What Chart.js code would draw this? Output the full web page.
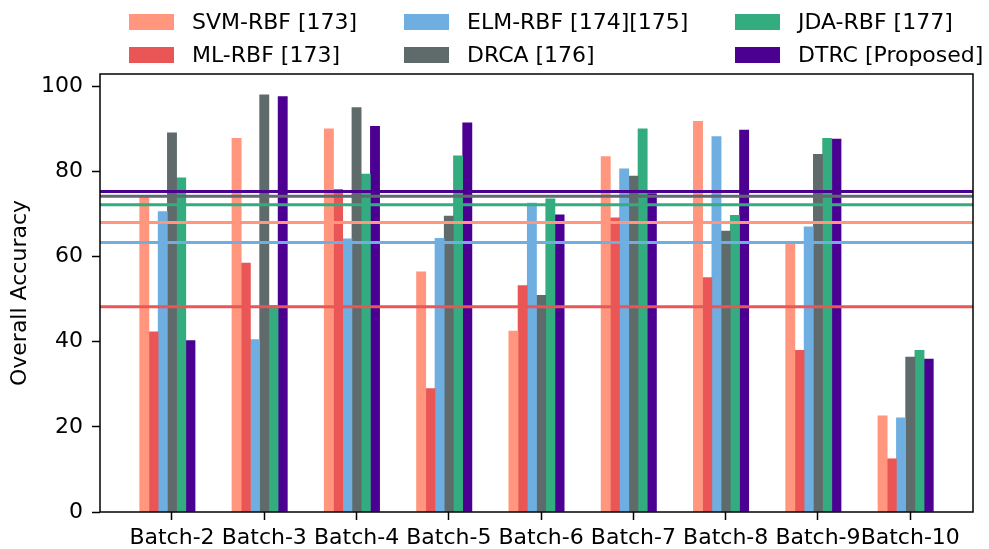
<!DOCTYPE html>
<html>
<head>
<meta charset="utf-8">
<script src="https://cdn.jsdelivr.net/npm/chart.js@4.4.1/dist/chart.umd.min.js"></script>
<style>
  body { margin: 0; background: #fff; }
  #wrap { position: relative; width: 989px; height: 549px; }
  .legend-patch { position: absolute; width: 45px; height: 16px; }
  .legend-text {
    position: absolute; font: 22px "DejaVu Sans", sans-serif; color: #000;
    white-space: nowrap; line-height: 26px;
  }
</style>
</head>
<body>
<div id="wrap">
  <canvas id="accChart" width="989" height="549"></canvas>
  <div id="legend"></div>
</div>
<script>
"use strict";

// categories
const batches = ["Batch-2", "Batch-3", "Batch-4", "Batch-5", "Batch-6", "Batch-7", "Batch-8", "Batch-9", "Batch-10"];
const yTicks = [0, 20, 40, 60, 80, 100];

// overall accuracy per method
const svmRbf = [74.2, 87.8, 90.0, 56.4, 42.5, 83.5, 91.8, 63.1, 22.6];
const mlRbf = [42.3, 58.5, 75.8, 29.0, 53.2, 69.1, 55.1, 38.0, 12.5];
const elmRbf = [70.6, 40.5, 64.2, 64.3, 72.6, 80.6, 88.2, 67.0, 22.1];
const drca = [89.1, 98.0, 95.0, 69.5, 50.9, 78.9, 66.0, 84.0, 36.4];
const jdaRbf = [78.5, 48.5, 79.4, 83.7, 73.6, 90.0, 69.7, 87.8, 38.0];
const dtrc = [40.3, 97.6, 90.6, 91.4, 69.8, 74.8, 89.7, 87.6, 35.9];

// horizontal average lines, one per method
const averages = [68.0, 48.2, 63.3, 74.2, 72.2, 75.3];

const methodNames = ["SVM-RBF [173]", "ML-RBF [173]", "ELM-RBF [174][175]", "DRCA [176]", "JDA-RBF [177]", "DTRC [Proposed]"];
const methodValues = [svmRbf, mlRbf, elmRbf, drca, jdaRbf, dtrc];
const colors = ["#ff967d", "#ea5656", "#6faee0", "#5f6b6b", "#33ad7f", "#4b0092"];

const FONT = "DejaVu Sans";
const BAR_W = 0.1; // bar width in category units, tick sits under the 4th bar

// bars, placed side by side like matplotlib's x + (k - 3) * width
const datasets = methodValues.map((values, k) => ({
  type: "bar",
  label: methodNames[k],
  data: values.map((v, i) => ({ x: i + (k - 3) * BAR_W, y: v })),
  backgroundColor: colors[k],
  borderWidth: 0,
  grouped: false,
  categoryPercentage: 1,
  barPercentage: 1,
  order: 2,
}));

// average lines across the whole axes
averages.forEach((avg, k) => {
  datasets.push({
    type: "line",
    label: methodNames[k] + " avg",
    xAxisID: "x2",
    data: [{ x: 0, y: avg }, { x: 1, y: avg }],
    borderColor: colors[k],
    borderWidth: 3,
    pointRadius: 0,
    order: 1,
  });
});

const framePlugin = {
  id: "frame",
  afterDatasetsDraw(chart) {
    const { ctx, chartArea } = chart;
    ctx.save();
    ctx.strokeStyle = "#000";
    ctx.lineWidth = 1.5;
    ctx.strokeRect(chartArea.left, chartArea.top, chartArea.right - chartArea.left, chartArea.bottom - chartArea.top);
    ctx.restore();
  },
};

const accChart = new Chart(document.getElementById("accChart"), {
  data: { datasets: datasets },
  plugins: [framePlugin],
  options: {
    responsive: false,
    animation: false,
    devicePixelRatio: 1,
    layout: { padding: { top: 74, right: 16, left: 0, bottom: 0 } },
    plugins: {
      legend: { display: false },
      tooltip: { enabled: false },
    },
    scales: {
      x: {
        type: "linear",
        min: -0.78,
        max: 8.68,
        offset: false,
        border: { display: false },
        grid: { offset: false, drawOnChartArea: false, tickLength: 8, tickWidth: 1.5, tickColor: "#000" },
        afterBuildTicks(scale) {
          scale.ticks = batches.map((b, i) => ({ value: i }));
        },
        afterFit(scale) {
          scale.height = 37;
        },
        ticks: {
          autoSkip: false,
          maxRotation: 0,
          padding: 5,
          color: "#000",
          font: { family: FONT, size: 22 },
          callback: (v) => batches[v],
        },
      },
      x2: {
        type: "linear",
        display: false,
        min: 0,
        max: 1,
      },
      y: {
        min: 0,
        max: 102.9,
        border: { display: false },
        grid: { drawOnChartArea: false, tickLength: 8, tickWidth: 1.5, tickColor: "#000" },
        afterBuildTicks(scale) {
          scale.ticks = yTicks.map((t) => ({ value: t }));
        },
        afterFit(scale) {
          scale.width = 100;
        },
        ticks: {
          padding: 9,
          color: "#000",
          font: { family: FONT, size: 22 },
        },
        title: {
          display: true,
          text: "Overall Accuracy",
          color: "#000",
          font: { family: FONT, size: 22 },
          padding: { top: 7, bottom: 0 },
        },
      },
    },
  },
});

// legend: 3 columns x 2 rows, filled column by column
const legendCols = [129, 404, 735];
const legendRows = [14, 47];
const legendEl = document.getElementById("legend");
methodNames.forEach((name, k) => {
  const col = Math.floor(k / 2);
  const row = k % 2;
  const patch = document.createElement("div");
  patch.className = "legend-patch";
  patch.style.left = legendCols[col] + "px";
  patch.style.top = legendRows[row] + "px";
  patch.style.background = colors[k];
  legendEl.appendChild(patch);

  const text = document.createElement("div");
  text.className = "legend-text";
  text.style.left = legendCols[col] + 63 + "px";
  text.style.top = legendRows[row] - 5 + "px";
  text.textContent = name;
  legendEl.appendChild(text);
});
</script>
</body>
</html>
